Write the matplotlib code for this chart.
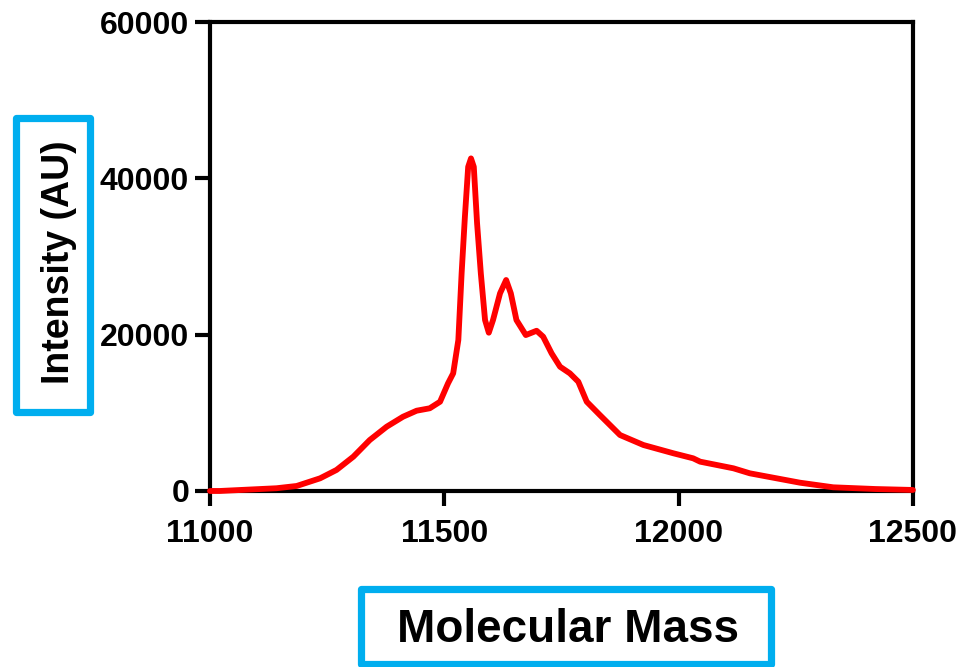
import matplotlib
matplotlib.use('Agg')
import matplotlib.pyplot as plt
from matplotlib.patches import Rectangle

plt.rcParams['font.family'] = ['Liberation Sans', 'DejaVu Sans']
plt.rcParams['font.weight'] = 'bold'

# deconvoluted spectrum
mass = [11000, 11021, 11142, 11185, 11235, 11270, 11306, 11341, 11377, 11412,
        11441, 11469, 11491, 11508, 11519, 11530, 11537, 11544, 11551, 11557,
        11563, 11570, 11578, 11587, 11595, 11604, 11619, 11632, 11642, 11654,
        11674, 11697, 11711, 11729, 11747, 11768, 11786, 11804, 11832, 11875,
        11925, 11989, 12031, 12046, 12117, 12152, 12259, 12330, 12420, 12500]
intensity = [0, 0, 350, 640, 1620, 2690, 4390, 6520, 8220, 9500,
             10270, 10580, 11420, 13770, 15050, 19310, 27840, 35080, 41470, 42550,
             41470, 34240, 27840, 21870, 20250, 21870, 25290, 26990, 25290, 21870,
             19950, 20500, 19740, 17610, 15900, 15050, 13980, 11420, 9720, 7160,
             5880, 4820, 4180, 3750, 2900, 2260, 1060, 470, 250, 130]

xticks = [11000, 11500, 12000, 12500]
yticks = [0, 20000, 40000, 60000]

fig = plt.figure(figsize=(9.64, 6.67), dpi=100)
ax = fig.add_axes([0.2178, 0.2639, 0.7292, 0.7031])

ax.plot(mass, intensity, color='#ff0000', lw=4.2, solid_capstyle='round',
        solid_joinstyle='round', clip_on=False, zorder=3)

ax.set_xlim(11000, 12500)
ax.set_ylim(0, 60000)
ax.set_xticks(xticks)
ax.set_yticks(yticks)
ax.set_xticklabels([str(v) for v in xticks], fontsize=23, fontweight='bold')
ax.set_yticklabels([str(v) for v in yticks], fontsize=23, fontweight='bold')
for s in ax.spines.values():
    s.set_linewidth(3)
ax.tick_params(direction='out', length=11, width=3)
ax.tick_params(axis='x', pad=9)
ax.tick_params(axis='y', pad=4)

# labels inside blue boxes
fig.text(59 / 964, 1 - 262 / 667, 'Intensity (AU)', rotation=90,
         ha='center', va='center', fontsize=27, fontweight='bold')
fig.text(568 / 964, 1 - 630 / 667, 'Molecular Mass',
         ha='center', va='center', fontsize=33, fontweight='bold')

blue = '#00aeef'
fig.patches.append(Rectangle((16 / 964, 1 - 412 / 667), 74 / 964, 294 / 667,
                             transform=fig.transFigure, fill=False,
                             edgecolor=blue, lw=5.2, joinstyle='round'))
fig.patches.append(Rectangle((361 / 964, 1 - 664 / 667), 410 / 964, 75 / 667,
                             transform=fig.transFigure, fill=False,
                             edgecolor=blue, lw=5.2, joinstyle='round'))

fig.savefig('out.png', dpi=100)
